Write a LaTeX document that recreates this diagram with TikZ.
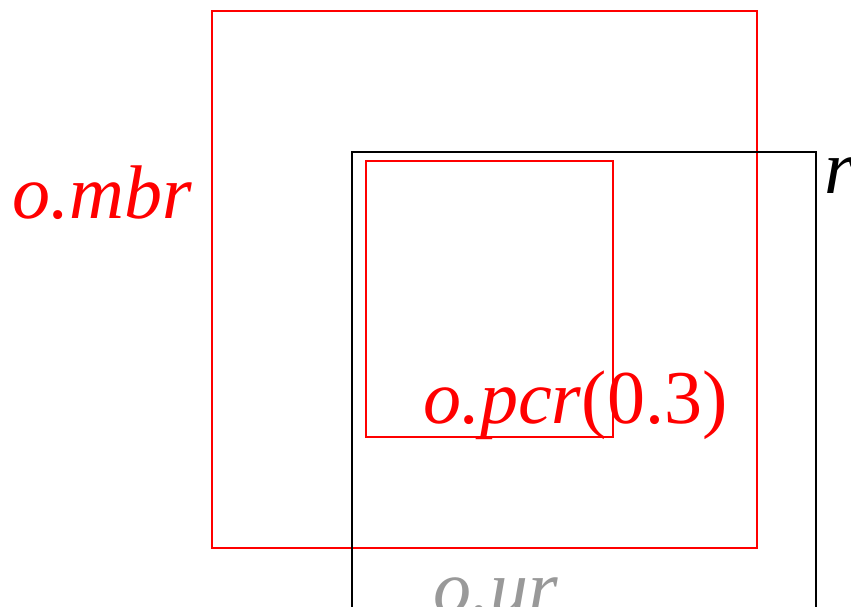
\documentclass[tikz,border=0pt]{standalone}
\usepackage{fontspec}
\setmainfont{Liberation Serif}
\definecolor{lgray}{RGB}{153,153,153}
\begin{document}
\begin{tikzpicture}[x=1pt,y=-1pt,
  redbox/.style={draw=red,line width=2pt},
  blackbox/.style={draw=black,line width=2pt},
  lab/.style={inner sep=0pt,anchor=base west,font=\fontsize{76}{90}\selectfont}]
\useasboundingbox (0,0) rectangle (851,606);
\draw[redbox] (212,11) rectangle (757,548);
\draw[blackbox] (352,700) -- (352,152) -- (816,152) -- (816,700);
\draw[redbox] (366,161) rectangle (613,437);
\node[lab,text=red] (mbr) at (12,218) {\itshape o.mbr};
\node[lab,text=black] (r) at (824,193) {\itshape r};
\node[lab,text=red] (pcr) at (423,423) {\textit{o.pcr}(0.3)};
\node[lab,text=lgray] (ur) at (433,613) {\itshape o.ur};
\end{tikzpicture}
\end{document}
